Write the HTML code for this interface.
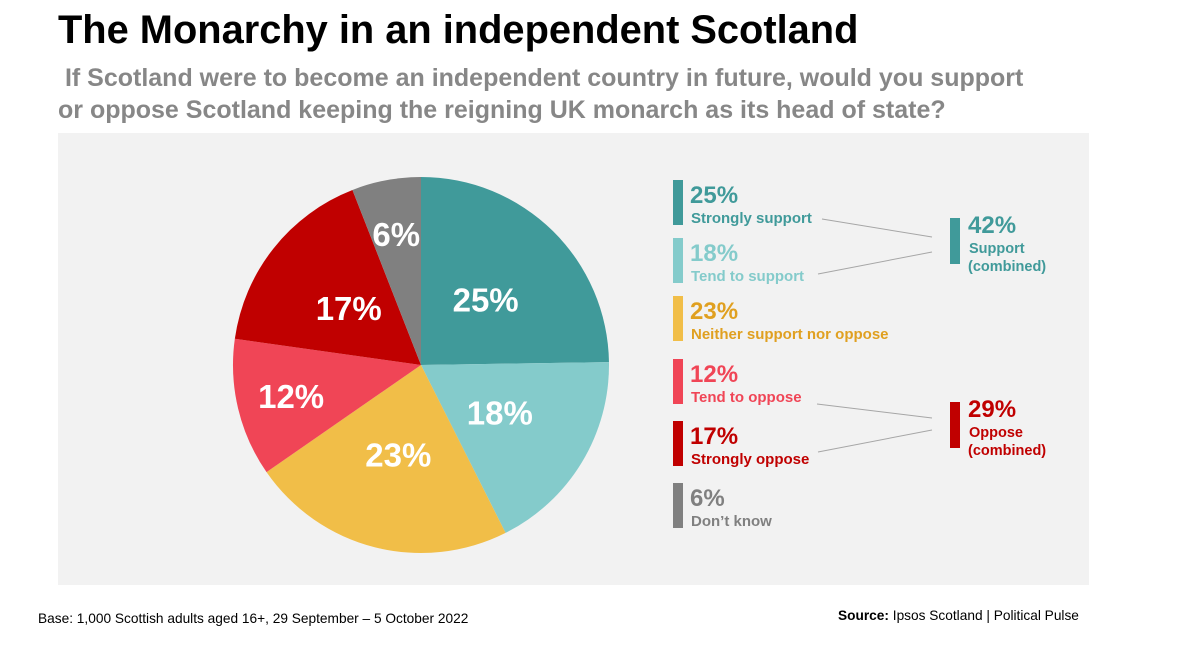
<!DOCTYPE html>
<html><head><meta charset="utf-8">
<style>
body{margin:0;width:1196px;height:669px;background:#fff;font-family:"Liberation Sans",Arial,sans-serif;overflow:hidden;position:relative}
.t{position:absolute;white-space:nowrap}
</style></head><body>
<div class="t" style="left:58px;top:8px;font-size:39.8px;font-weight:bold;color:#000">The Monarchy in an independent Scotland</div>
<div class="t" style="left:58px;top:62px;font-size:25px;font-weight:bold;color:#878787;line-height:32px">&nbsp;If Scotland were to become an independent country in future, would you support<br>or oppose Scotland keeping the reigning UK monarch as its head of state?</div>
<svg id="chart" width="1196" height="669" style="position:absolute;left:0;top:0;pointer-events:none" xmlns="http://www.w3.org/2000/svg">
<rect x="58" y="133" width="1031" height="452" fill="#f2f2f2"/>
<g id="slices"></g><g id="legend"></g>
</svg>
<div class="t" style="left:38px;top:611px;font-size:13.7px;color:#000">Base: 1,000 Scottish adults aged 16+, 29 September – 5 October 2022</div>
<div class="t" style="left:838px;top:608px;font-size:13.7px;color:#000"><b>Source:</b> Ipsos Scotland | Political Pulse</div>
<script>
const categories=["Strongly support","Tend to support","Neither support nor oppose","Tend to oppose","Strongly oppose","Don’t know"];
const values=[25,18,23,12,17,6];
const colors=["#409a9a","#84cbcb","#f1be48","#f04556","#c00000","#808080"];
const textColors=["#409a9a","#84cbcb","#e0a020","#f04556","#c00000","#808080"];
const combinedLabels=["Support","Oppose"];
const combinedValues=[42,29];
const NS="http://www.w3.org/2000/svg";
const cx=421,cy=365,r=188;
const total=values.reduce((a,b)=>a+b,0);
function pt(frac,rad){const a=frac*2*Math.PI-Math.PI/2;return [cx+rad*Math.cos(a),cy+rad*Math.sin(a)];}
const gs=document.getElementById('slices');
let acc=0;
values.forEach((v,i)=>{
  const s=acc/total,e=(acc+v)/total;acc+=v;
  const p0=pt(s,r),p1=pt(e,r);
  const path=document.createElementNS(NS,'path');
  path.setAttribute('d',`M${cx},${cy}L${p0[0]},${p0[1]}A${r},${r} 0 ${e-s>0.5?1:0} 1 ${p1[0]},${p1[1]}Z`);
  path.setAttribute('fill',colors[i]);
  
  
  gs.appendChild(path);
  const lp=pt((s+e)/2,v<15?r*0.71:r*0.49);
  const t=document.createElementNS(NS,'text');
  t.setAttribute('x',lp[0]);t.setAttribute('y',lp[1]+12);
  t.setAttribute('text-anchor','middle');t.setAttribute('fill','#fff');
  t.setAttribute('font-size','33');t.setAttribute('font-weight','bold');
  t.textContent=v+'%';
  
  
  gs.appendChild(t);
});
const gl=document.getElementById('legend');
function add(tag,attrs,txt){const e=document.createElementNS(NS,tag);for(const k in attrs)e.setAttribute(k,attrs[k]);if(txt!=null)e.textContent=txt;gl.appendChild(e);return e;}
const ys=[180,238,296,359,421,483];
values.forEach((v,i)=>{
  const y=ys[i];
  const b=add('rect',{x:673,y:y,width:10,height:45,fill:colors[i]});
  
  
  const p=add('text',{x:690,y:y+23,'font-size':24,'font-weight':'bold',fill:textColors[i]},v+'%');
  
  
  const l=add('text',{x:691,y:y+43,'font-size':15,'font-weight':'bold',fill:textColors[i]},categories[i]);
  
  
});
const cys=[218,402];const cc=["#409a9a","#c00000"];
combinedValues.forEach((v,i)=>{
  const y=cys[i];
  const b=add('rect',{x:950,y:y,width:10,height:46,fill:cc[i]});
  
  
  const p=add('text',{x:968,y:y+15,'font-size':24,'font-weight':'bold',fill:cc[i]},v+'%');
  
  
  const l=add('text',{x:969,y:y+35,'font-size':14.5,'font-weight':'bold',fill:cc[i]},combinedLabels[i]);
  
  
  const l2=add('text',{x:968,y:y+53,'font-size':14.5,'font-weight':'bold',fill:cc[i]},'(combined)');
  
  
});
[[822,219,932,237],[818,274,932,252],[817,404,932,418],[818,452,932,430]].forEach(c=>{
  const ln=add('line',{x1:c[0],y1:c[1],x2:c[2],y2:c[3],stroke:'#a6a6a6','stroke-width':1});
  
  
});
</script>
</body></html>
